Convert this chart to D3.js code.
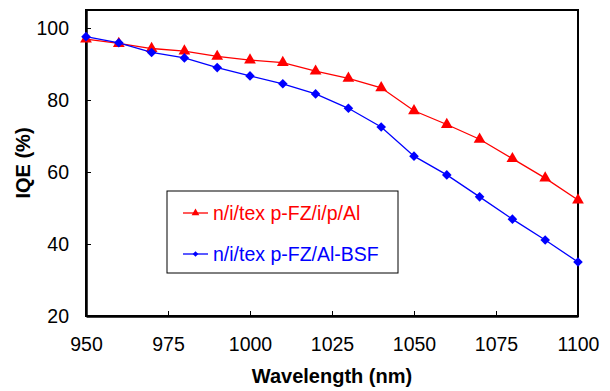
<!DOCTYPE html>
<html>
<head>
<meta charset="utf-8">
<script src="https://cdn.jsdelivr.net/npm/d3@7"></script>
<style>
  html, body { margin: 0; padding: 0; background: #fff; }
  svg { display: block; font-family: "Liberation Sans", Arial, sans-serif; }
</style>
</head>
<body>
<svg id="chart" width="610" height="391"></svg>
<script>
// wavelength (nm)
const wavelengths = [950, 960, 970, 980, 990, 1000, 1010, 1020, 1030, 1040, 1050, 1060, 1070, 1080, 1090, 1100];
// IQE (%) for the two cells
const iqeIPAl = [96.9, 95.7, 94.3, 93.6, 92.1, 91.1, 90.4, 88.0, 86.0, 83.4, 77.0, 73.2, 69.1, 63.7, 58.3, 52.2];
const iqeAlBSF = [97.6, 95.9, 93.2, 91.7, 89.0, 86.7, 84.5, 81.7, 77.7, 72.5, 64.4, 59.2, 53.1, 46.9, 41.1, 35.0];
const xTicks = [950, 975, 1000, 1025, 1050, 1075, 1100];
const yTicks = [20, 40, 60, 80, 100];
const seriesNames = ['n/i/tex p-FZ/i/p/Al', 'n/i/tex p-FZ/Al-BSF'];

const svg = d3.select('#chart');
const margin = { left: 86, top: 10, right: 32, bottom: 75 };
const width = 610 - margin.left - margin.right;
const height = 391 - margin.top - margin.bottom;

const x = d3.scaleLinear().domain([950, 1100]).range([0, width]);
const y = d3.scaleLinear().domain([20, 105]).range([height, 0]);

const g = svg.append('g').attr('transform', `translate(${margin.left},${margin.top})`);

// frame
g.append('rect')
  .attr('width', width).attr('height', height)
  .attr('fill', 'none').attr('stroke', '#000').attr('stroke-width', 2);

const xAxis = g.append('g')
  .attr('transform', `translate(0,${height})`)
  .call(d3.axisBottom(x).tickValues(xTicks).tickFormat(d3.format('d'))
    .tickSizeInner(-5).tickSizeOuter(0).tickPadding(15));
const yAxis = g.append('g')
  .call(d3.axisLeft(y).tickValues(yTicks).tickFormat(d3.format('d'))
    .tickSizeInner(-5).tickSizeOuter(0).tickPadding(17));

[xAxis, yAxis].forEach(a => {
  a.select('.domain').attr('stroke', '#000').attr('stroke-width', 2.5);
  a.selectAll('.tick line').attr('stroke', '#000').attr('stroke-width', 1);
  a.selectAll('.tick text')
    .attr('fill', '#000')
    .style('font-size', '19.5px')
    .style('font-family', '"Liberation Sans", Arial, sans-serif');
});
xAxis.selectAll('.tick text').attr('dy', '1.05em');

// axis titles
svg.append('text')
  .attr('x', margin.left + width / 2).attr('y', 383)
  .attr('text-anchor', 'middle')
  .style('font-size', '20px').style('font-weight', 'bold')
  .text('Wavelength (nm)');
svg.append('text')
  .attr('transform', `translate(30,${margin.top + height / 2}) rotate(-90)`)
  .attr('text-anchor', 'middle')
  .style('font-size', '20px').style('font-weight', 'bold')
  .text('IQE (%)');

const line = d3.line().x(d => x(d[0])).y(d => y(d[1]));
const triangle = d3.symbol().type(d3.symbolTriangle);
const square = d3.symbol().type(d3.symbolSquare);

const series = [
  { name: seriesNames[0], values: iqeIPAl, color: '#ff0000', sym: triangle, size: 60, rot: 0 },
  { name: seriesNames[1], values: iqeAlBSF, color: '#0000ff', sym: square, size: 46, rot: 45 }
];

series.forEach(s => {
  const pts = wavelengths.map((w, i) => [w, s.values[i]]);
  g.append('path')
    .datum(pts)
    .attr('fill', 'none')
    .attr('stroke', s.color)
    .attr('stroke-width', 1.3)
    .attr('d', line);
  g.selectAll(null)
    .data(pts)
    .enter()
    .append('path')
    .attr('transform', d => `translate(${x(d[0])},${y(d[1])}) rotate(${s.rot})`)
    .attr('d', s.sym.size(s.size)())
    .attr('fill', s.color);
});

// legend
const lg = svg.append('g').attr('transform', 'translate(167,191)');
lg.append('rect')
  .attr('width', 231).attr('height', 82)
  .attr('fill', '#fff').attr('stroke', '#000').attr('stroke-width', 1);
series.forEach((s, i) => {
  const ly = 22 + i * 41;
  lg.append('line')
    .attr('x1', 16).attr('x2', 41).attr('y1', ly).attr('y2', ly)
    .attr('stroke', s.color).attr('stroke-width', 1.3);
  lg.append('path')
    .attr('transform', `translate(28.5,${ly}) rotate(${s.rot})`)
    .attr('d', s.sym.size(i === 0 ? 26 : 16)())
    .attr('fill', s.color);
  lg.append('text')
    .attr('x', 46).attr('y', ly).attr('dy', '0.36em')
    .attr('fill', s.color)
    .style('font-size', '19.5px')
    .text(s.name);
});
</script>
</body>
</html>
